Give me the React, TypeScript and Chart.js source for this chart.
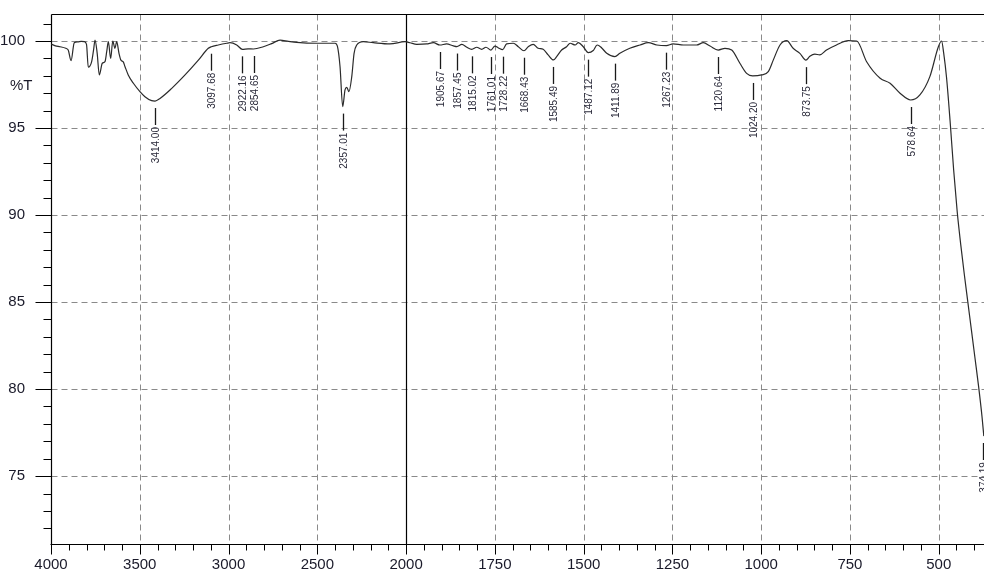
import React, { useEffect, useRef } from 'react';
import { Chart, registerables } from 'chart.js';

Chart.register(...registerables);

// ---- Data ----
const wavenumbers = [
  4000, 3975, 3949, 3917, 3903, 3887, 3869, 3850, 3830, 3812, 3800, 3790, 3771, 3760, 3752,
  3740, 3728, 3711, 3696, 3686, 3677, 3664, 3652, 3640, 3630, 3617, 3606, 3593, 3583, 3565,
  3536, 3499, 3471, 3433, 3414, 3386, 3320, 3245, 3170, 3114, 3097, 3058, 3010, 2992, 2954,
  2922, 2890, 2860, 2804, 2757, 2710, 2663, 2616, 2504, 2400, 2387, 2372, 2357, 2344, 2334,
  2322, 2306, 2293, 2278, 2241, 2185, 2091, 2006, 1989, 1970, 1942, 1923, 1905, 1886, 1867,
  1857, 1843, 1829, 1815, 1801, 1787, 1775, 1761, 1750, 1740, 1728, 1717, 1698, 1684, 1668,
  1656, 1642, 1628, 1614, 1600, 1585, 1576, 1562, 1548, 1538, 1524, 1515, 1501, 1487, 1473,
  1462, 1449, 1435, 1412, 1398, 1370, 1341, 1318, 1294, 1267, 1248, 1219, 1200, 1182, 1163,
  1144, 1121, 1102, 1083, 1060, 1041, 1024, 999, 980, 966, 947, 928, 910, 891, 874,
  863, 849, 835, 816, 788, 755, 731, 703, 665, 637, 609, 579, 553, 525, 501,
  492, 486, 478, 468, 458, 448, 438, 428, 418, 408, 398, 388, 378, 373,
];
const transmittance = [
  99.83, 99.72, 99.67, 99.58, 99.48, 98.87, 99.9, 99.95, 99.98, 99.96, 99.8, 98.49, 98.81, 99.5, 100.05,
  99.3, 98.05, 98.72, 98.81, 99.4, 99.96, 99.0, 100.0, 99.58, 99.96, 99.29, 98.9, 98.8, 98.52, 98.05,
  97.57, 97.09, 96.8, 96.57, 96.55, 96.7, 97.28, 98.05, 98.9, 99.58, 99.67, 99.77, 99.87, 99.9, 99.77,
  99.52, 99.55, 99.54, 99.67, 99.85, 100.05, 99.98, 99.92, 99.87, 99.87, 99.7, 98.52, 96.23, 97.19, 97.34,
  97.09, 97.95, 99.29, 99.77, 99.96, 99.9, 99.83, 99.96, 99.9, 99.81, 99.83, 99.9, 99.77, 99.83, 99.72,
  99.68, 99.8, 99.64, 99.52, 99.64, 99.52, 99.64, 99.48, 99.71, 99.6, 99.5, 99.83, 99.87, 99.67, 99.44,
  99.67, 99.81, 99.58, 99.52, 99.2, 98.91, 99.1, 99.48, 99.67, 99.87, 99.77, 99.9, 99.67, 99.33, 99.45,
  99.77, 99.6, 99.29, 99.1, 99.29, 99.58, 99.77, 99.9, 99.77, 99.73, 99.83, 99.77, 99.77, 99.77, 99.9,
  99.71, 99.48, 99.58, 99.48, 98.72, 98.14, 97.99, 98.05, 98.24, 98.9, 99.77, 100.02, 99.58, 99.29, 98.9,
  99.12, 99.25, 99.2, 99.48, 99.77, 100.02, 100.0, 98.81, 97.86, 97.57, 97.0, 96.61, 96.9, 97.95, 99.67,
  100.0, 99.3, 97.9, 95.4, 92.6, 90.2, 88.3, 86.6, 85.0, 83.4, 81.8, 80.2, 78.4, 77.3,
];

const peakWavenumbers = [
  3414.0, 3097.68, 2922.16, 2854.65, 2357.01, 1905.67, 1857.45, 1815.02, 1761.01, 1728.22,
  1668.43, 1585.49, 1487.12, 1411.89, 1267.23, 1120.64, 1024.2, 873.75, 578.64, 374.19,
];
const peakTransmittance = [
  96.55, 99.67, 99.52, 99.54, 96.23, 99.77, 99.68, 99.52, 99.48, 99.5,
  99.44, 98.91, 99.33, 99.1, 99.73, 99.48, 97.99, 98.9, 96.61, 77.3,
];
const peakLabels = [
  '3414.00', '3097.68', '2922.16', '2854.65', '2357.01', '1905.67', '1857.45', '1815.02', '1761.01', '1728.22',
  '1668.43', '1585.49', '1487.12', '1411.89', '1267.23', '1120.64', '1024.20', '873.75', '578.64', '374.19',
];

const xTickWavenumbers = [4000, 3500, 3000, 2500, 2000, 1750, 1500, 1250, 1000, 750, 500];
const yTickValues = [75, 80, 85, 90, 95, 100];
const yAxisTitle = '%T';

// ---- Axis mapping: scale doubles below 2000 cm-1 ----
const BREAK = 2000;
const toU = (w: number) => (w >= BREAK ? 4000 - w : 2000 + (BREAK - w) * 2);
const fromU = (u: number) => (u <= 2000 ? 4000 - u : BREAK - (u - 2000) / 2);

const FONT = "'Liberation Sans', Arial, sans-serif";

const decor = {
  id: 'spectrumDecor',
  beforeDatasetsDraw(chart: any) {
    const { ctx, chartArea: a, scales } = chart;
    const x = scales.x;
    const y = scales.y;
    const line = (x1: number, y1: number, x2: number, y2: number) => {
      ctx.beginPath();
      ctx.moveTo(x1, y1);
      ctx.lineTo(x2, y2);
      ctx.stroke();
    };
    const L = Math.round(a.left) + 0.5;
    const B = Math.round(a.bottom) + 0.5;
    const T = Math.round(a.top) + 0.5;
    const R = a.right + 2;
    ctx.save();
    // dashed grid
    ctx.strokeStyle = '#8a8a8a';
    ctx.lineWidth = 1;
    ctx.setLineDash([6, 4]);
    for (const v of yTickValues) {
      const py = Math.round(y.getPixelForValue(v)) + 0.5;
      line(L, py, R, py);
    }
    for (const w of xTickWavenumbers) {
      if (w === 4000 || w === BREAK) continue;
      const px = Math.round(x.getPixelForValue(toU(w))) + 0.5;
      line(px, T, px, B);
    }
    ctx.setLineDash([]);
    // frame
    ctx.strokeStyle = '#000';
    ctx.lineWidth = 1.2;
    line(L, T, R, T);
    line(L, T, L, B);
    line(L - 1, B, R, B);
    const pb = Math.round(x.getPixelForValue(toU(BREAK))) + 0.5;
    line(pb, T, pb, B);
    // y ticks (major every 5, minor every 1)
    ctx.lineWidth = 1;
    for (let v = 72; v <= 101; v++) {
      const py = Math.round(y.getPixelForValue(v)) + 0.5;
      const len = v % 5 === 0 ? 16 : 8;
      line(L - len, py, L, py);
    }
    // x ticks (minor every 100 scale units)
    for (let u = 0; u <= x.max; u += 100) {
      const px = Math.round(x.getPixelForValue(u)) + 0.5;
      const len = u % 500 === 0 ? 10 : 6;
      line(px, B, px, B + len);
    }
    ctx.restore();
  },
  afterDatasetsDraw(chart: any) {
    const { ctx, scales } = chart;
    const x = scales.x;
    const y = scales.y;
    ctx.save();
    ctx.strokeStyle = '#1a1a1a';
    ctx.fillStyle = '#2a2a3a';
    ctx.lineWidth = 1.3;
    ctx.font = `10px ${FONT}`;
    peakWavenumbers.forEach((w, i) => {
      const px = Math.round(x.getPixelForValue(toU(w))) + 0.5;
      const py = y.getPixelForValue(peakTransmittance[i]);
      ctx.beginPath();
      ctx.moveTo(px, py + 7);
      ctx.lineTo(px, py + 24);
      ctx.stroke();
      ctx.save();
      ctx.translate(px + 0.5, py + 26);
      ctx.rotate(-Math.PI / 2);
      ctx.textAlign = 'right';
      ctx.textBaseline = 'middle';
      ctx.fillText(peakLabels[i], 0, 0);
      ctx.restore();
    });
    ctx.fillStyle = '#1a1a2a';
    ctx.font = `15px ${FONT}`;
    ctx.textAlign = 'left';
    ctx.textBaseline = 'middle';
    ctx.fillText(yAxisTitle, 10, 86);
    ctx.restore();
  },
};

export default function App() {
  const ref = useRef<HTMLCanvasElement>(null);
  useEffect(() => {
    const points = wavenumbers.map((w, i) => ({ x: toU(w), y: transmittance[i] }));
    const chart = new Chart(ref.current as HTMLCanvasElement, {
      type: 'line',
      data: {
        datasets: [
          {
            data: points,
            borderColor: '#2b2b2b',
            borderWidth: 1.2,
            pointRadius: 0,
            cubicInterpolationMode: 'monotone',
            fill: false,
          },
        ],
      },
      options: {
        animation: false,
        responsive: false,
        devicePixelRatio: 1,
        layout: { padding: { top: 14, left: 0, right: 0, bottom: 0 } },
        plugins: { legend: { display: false }, tooltip: { enabled: false } },
        scales: {
          x: {
            type: 'linear',
            min: 0,
            max: toU(372.5),
            grid: { display: false },
            border: { display: false },
            afterBuildTicks: (s: any) => {
              s.ticks = xTickWavenumbers.map((w) => ({ value: toU(w) }));
            },
            afterFit: (s: any) => {
              s.height = 26;
              s.paddingLeft = 0;
              s.paddingRight = 0;
            },
            ticks: {
              autoSkip: false,
              maxRotation: 0,
              padding: 4,
              color: '#1a1a2a',
              font: { family: FONT, size: 15 },
              callback: (v: any) => String(Math.round(fromU(Number(v)))),
            },
          },
          y: {
            type: 'linear',
            min: 71.1,
            max: 101.55,
            grid: { display: false },
            border: { display: false },
            afterBuildTicks: (s: any) => {
              s.ticks = yTickValues.map((v) => ({ value: v }));
            },
            afterFit: (s: any) => {
              s.width = 51;
              s.paddingTop = 0;
              s.paddingBottom = 0;
            },
            ticks: {
              autoSkip: false,
              padding: 18,
              color: '#1a1a2a',
              font: { family: FONT, size: 15 },
              callback: (v: any) => String(v),
            },
          },
        },
      },
      plugins: [decor],
    } as any);
    return () => chart.destroy();
  }, []);
  return (
    <div style={{ position: 'fixed', left: 0, top: 0, width: 984, height: 570, background: '#fff' }}>
      <canvas ref={ref} width={984} height={570} style={{ display: 'block', width: 984, height: 570 }} />
    </div>
  );
}
